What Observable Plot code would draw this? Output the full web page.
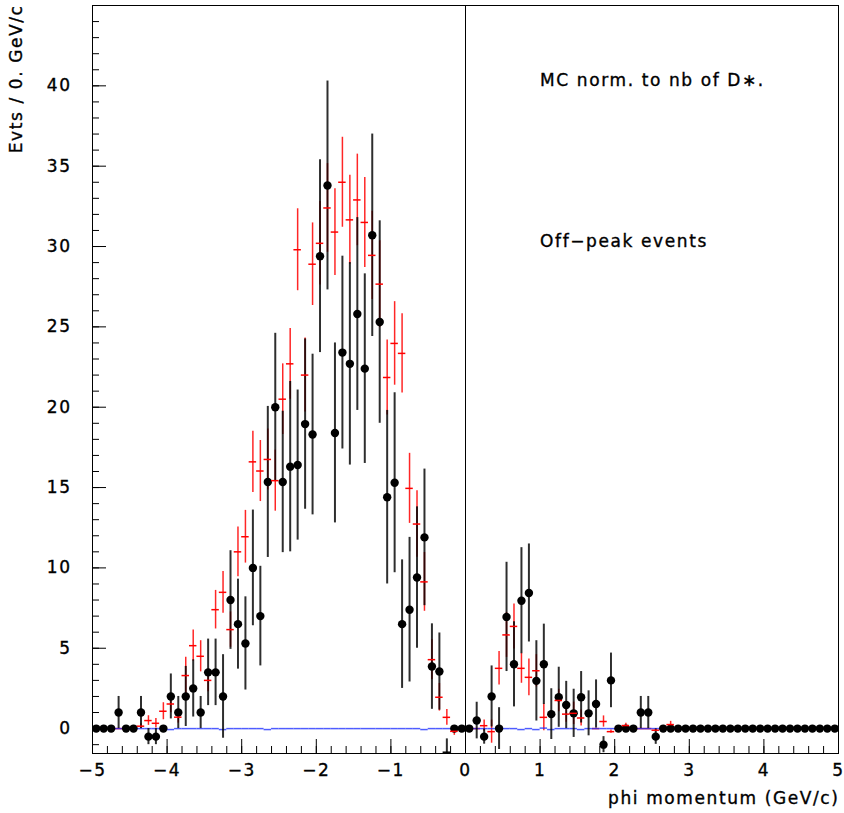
<!DOCTYPE html>
<html><head><meta charset="utf-8">
<script src="https://cdn.jsdelivr.net/npm/d3@7"></script>
<script src="https://cdn.jsdelivr.net/npm/@observablehq/plot@0.6"></script>
<style>body{margin:0;background:#fff}</style>
</head><body><div id="chart"></div>
<script>
// Histogram binning: 100 bins of width 0.1 from -5 to 5
const binLow = -5, binWidth = 0.1;

// Black data points (values and errors), one per bin
const dataValues = [
  0,0,0,1,0,0,1,-0.5,-0.5,0,
  2,1,2,2.5,1,3.5,3.5,2,8,6.5,
  5.3,10,7,15.35,20,15.35,16.3,16.4,18.95,18.3,
  29.4,33.8,18.4,23.4,22.7,25.8,22.4,30.7,25.3,14.4,
  15.3,6.5,7.4,9.4,11.9,3.86,3.55,-1.47,0,0,
  0,0.5,-0.5,2,0,6.95,4.0,7.96,8.44,2.97,
  4.0,0.9,1.95,1.47,0.95,1.95,0.95,1.53,-1.0,3.0,
  0,0,0,1,1,-0.5,0,0,0,0,
  0,0,0,0,0,0,0,0,0,0,
  0,0,0,0,0,0,0,0,0,0
];
const dataErrors = [
  0,0,0,1,0,0,1,0.5,0.5,0,
  1.4,1,1.87,1.78,1,2.07,2.07,2.6,3.07,2.8,
  2.9,3.6,3.1,4.7,4.6,4.4,5.3,4.67,5.3,5.0,
  6.0,6.5,5.6,6.0,6.3,6.0,5.9,6.3,6.3,5.4,
  5.6,4.0,4.5,4.4,4.25,2.66,2.4,0.83,0,0,
  0,1.14,0.47,1.9,1.3,3.4,2.65,3.3,3.05,2.5,
  2.5,1.58,1.87,1.47,1.5,1.6,1.4,1.5,0.5,1.7,
  0,0,0,1,1,0.48,0,0,0,0,
  0,0,0,0,0,0,0,0,0,0,
  0,0,0,0,0,0,0,0,0,0
];

// Red MC (normalised to nb of D*), values and errors (null = not drawn)
const mcValues = [
  0,0,0,0,0,0,0.15,0.5,0.33,1.08,
  1.53,0.71,3.3,5.16,4.5,3.0,7.4,8.48,6.16,11.0,
  11.94,16.6,16.03,16.75,15.43,20.5,22.7,29.8,22.0,28.9,
  30.2,32.4,30.9,34.0,31.66,32.9,31.5,29.45,27.66,21.85,
  23.97,23.35,14.95,12.73,9.13,4.29,1.95,0.7,-0.17,0,
  0,0,0.18,-0.19,3.75,5.83,6.36,3.75,3.19,3.6,
  0.7,null,1.75,0.9,0.95,0.66,null,0,0.44,-0.19,
  0,0.19,0,0,0,-0.1,0,0.25,0,0,
  0,0,0,0,0,0,0,0,0,0,
  0,0,0,0,0,0,0,0,0,0
];
const mcErrors = [
  0,0,0,0,0,0,0.15,0.3,0.3,0.53,
  0.55,0.37,1.14,0.97,0.97,0.7,1.2,1.3,1.1,1.55,
  1.64,1.9,1.9,1.9,1.9,2.2,2.2,2.55,2.3,2.57,
  2.6,2.76,2.7,2.8,2.77,2.85,2.8,2.75,2.7,2.33,
  2.6,2.46,2.18,2.07,1.83,1.24,0.86,0.49,0.25,0,
  0,0,0.35,0.72,1.04,1.4,1.4,0.93,1.14,1.0,
  0.83,0,0.7,0.5,0.7,0.5,0,0,0.35,0.1,
  0,0.15,0,0,0,0.1,0,0.2,0,0,
  0,0,0,0,0,0,0,0,0,0,
  0,0,0,0,0,0,0,0,0,0
];

// Blue histogram (near zero everywhere)
const blueValues = [
  0,0,0,0,0,0,0,0,0,0,
  -0.06,0,0,0,0,0,0,-0.06,0,0,
  0,0,0,-0.06,0,0,0,0,0,0,
  0,0,0,0,0,0,0,0,0,0,
  0,0,0,0,-0.06,0,0,0,0,0,
  0,0,0,0,0,0,0,-0.06,0,-0.06,
  0.03,-0.06,0,0,0,-0.06,0,0,0,0,
  0,0,0,0,0,0,0,0,0,0,
  0,0,0,0,0,0,0,0,0,0,
  0,0,0,0,0,0,0,0,0,0
];

// Axes
const xDomain = [-5, 5];
const yDomain = [-1.55, 45];
const xMajorTicks = [-5,-4,-3,-2,-1,0,1,2,3,4,5];
const xMinorTicks = d3.range(-5, 5.001, 0.2);
const yMajorTicks = [0,5,10,15,20,25,30,35,40];
const yMinorTicks = d3.range(-1, 45, 1);
const xTitle = "phi momentum (GeV/c)";
const yTitle = "Evts / 0. GeV/c";
const notes = [
  {x: 1, y: 40, text: "MC norm. to nb of D\u2217."},
  {x: 1, y: 30, text: "Off\u2212peak events"}
];

const W = 844, H = 813;
const mL = 92, mR = 6, mT = 5, mB = 60;
const plotW = W - mL - mR, plotH = H - mT - mB;

const rows = dataValues.map((v, i) => ({
  x: binLow + (i + 0.5) * binWidth,
  x1: binLow + i * binWidth,
  x2: binLow + (i + 1) * binWidth,
  v, e: dataErrors[i],
  mc: mcValues[i], mce: mcErrors[i],
  b: blueValues[i]
}));
const yFloor = yDomain[0] + 0.3;

const chart = Plot.plot({
  width: W, height: H,
  marginLeft: mL, marginRight: mR, marginTop: mT, marginBottom: mB,
  style: {fontFamily: "DejaVu Sans", fontSize: "17px", background: "white", color: "black", letterSpacing: "1.5px"},
  x: {domain: xDomain},
  y: {domain: yDomain},
  marks: [
    // red MC vertical error bars
    Plot.ruleX(rows.filter(d => d.mc != null && d.mce > 0), {x: "x", y1: d => d.mc - d.mce, y2: d => d.mc + d.mce, stroke: "#ff0000", strokeWidth: 1.5, strokeOpacity: 0.85, clip: true}),
    // red MC zero bins
    Plot.ruleY(rows.filter(d => d.mc === 0), {y: "mc", x1: "x1", x2: "x2", stroke: "#ff0000", strokeWidth: 1.5}),
    // blue histogram
    Plot.ruleY(rows, {y: "b", x1: "x1", x2: "x2", stroke: "#2233ff", strokeWidth: 1.5, strokeOpacity: 0.8}),
    // vertical line at zero
    Plot.ruleX([0], {stroke: "black", strokeWidth: 1}),
    // black data error bars
    Plot.ruleX(rows.filter(d => d.e > 0), {x: "x", y1: d => d.v - d.e, y2: d => d.v + d.e, stroke: "black", strokeWidth: 2, strokeOpacity: 0.82, clip: true}),
    // black data points
    Plot.dot(rows.filter(d => d.v >= yFloor), {x: "x", y: "v", r: 4.2, fill: "black", stroke: "none"}),
    Plot.ruleY(rows.filter(d => d.v < yFloor), {y: "v", x1: "x1", x2: "x2", stroke: "black", strokeWidth: 1.5}),
    // red MC markers (horizontal part of the crosses)
    Plot.ruleY(rows.filter(d => d.mc != null && d.mc !== 0), {y: "mc", x1: "x1", x2: "x2", stroke: "#ff0000", strokeWidth: 1.5}),
    // frame
    Plot.frame({stroke: "black", strokeWidth: 1}),
    // ticks inside frame
    Plot.tickY(yMinorTicks, {y: d => d, insetRight: plotW - 7, stroke: "black"}),
    Plot.tickY(yMajorTicks, {y: d => d, insetRight: plotW - 14, stroke: "black"}),
    Plot.tickX(xMinorTicks, {x: d => d, insetTop: plotH - 7, stroke: "black"}),
    Plot.tickX(xMajorTicks, {x: d => d, insetTop: plotH - 14, stroke: "black"}),
    // tick labels
    Plot.axisY(yMajorTicks, {tickSize: 0, tickPadding: 21, label: null, fontSize: 17}),
    Plot.axisX(xMajorTicks, {tickSize: 0, tickPadding: 10, label: null, fontSize: 17}),
    // axis titles
    Plot.text([xTitle], {text: d => d, frameAnchor: "bottom-right", textAnchor: "end", lineAnchor: "bottom", dy: 50, dx: 1, fontSize: 17, className: "ttl"}),
    Plot.text([yTitle], {text: d => d, frameAnchor: "top-left", rotate: -90, textAnchor: "end", lineAnchor: "middle", dx: -76, dy: -1, fontSize: 17, className: "ttl"}),
    // annotations
    Plot.text(notes, {x: "x", y: "y", text: "text", textAnchor: "start", lineAnchor: "bottom", fontSize: 17, className: "ttl"})
  ]
});
d3.select(chart).selectAll(".ttl text").style("letter-spacing", "1.6px");
d3.select(chart).selectAll("text").style("stroke", "black").style("stroke-width", "0.35px");
document.getElementById("chart").appendChild(chart);
</script>
</body></html>
